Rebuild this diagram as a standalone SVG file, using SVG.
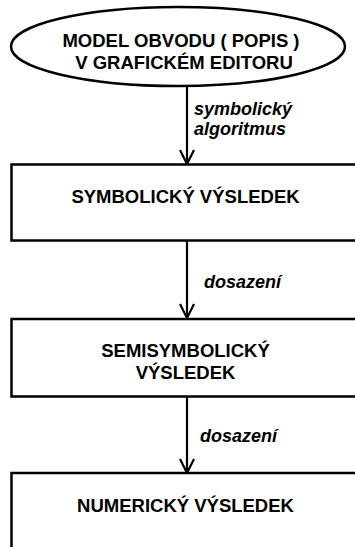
<svg xmlns="http://www.w3.org/2000/svg" width="355" height="547" viewBox="0 0 355 547">
<style>
.shape{fill:#fff;stroke:#000;stroke-width:2.5}
.t{font-family:"Liberation Sans",Arial,sans-serif;font-weight:bold;font-size:18.5px;fill:#000;text-anchor:middle}
.l{font-family:"Liberation Sans",Arial,sans-serif;font-weight:bold;font-style:italic;font-size:18px;fill:#000}
.c{stroke:#000;stroke-width:2.2;fill:none}
</style>
<g id="connectors">
<line class="c" x1="187" y1="86" x2="187" y2="164"/>
<path class="c" d="M180,150 L187,164 L194,150"/>
<line class="c" x1="187" y1="241" x2="187" y2="318"/>
<path class="c" d="M180,304 L187,318 L194,304"/>
<line class="c" x1="187" y1="397" x2="187" y2="473"/>
<path class="c" d="M180,459 L187,473 L194,459"/>
<text class="l" x="194" y="115">symbolický</text>
<text class="l" x="194" y="135">algoritmus</text>
<text class="l" x="204" y="288">dosazení</text>
<text class="l" x="200" y="442">dosazení</text>
</g>
<g id="n1">
<ellipse class="shape" cx="178" cy="46.5" rx="167" ry="39.5"/>
<text class="t" x="181" y="47">MODEL OBVODU ( POPIS )</text>
<text class="t" x="184" y="69">V GRAFICKÉM EDITORU</text>
</g>
<g id="n2">
<rect class="shape" x="11.5" y="164.5" width="360" height="76"/>
<text class="t" x="185.5" y="203">SYMBOLICKÝ VÝSLEDEK</text>
</g>
<g id="n3">
<rect class="shape" x="11.5" y="319" width="360" height="77.5"/>
<text class="t" x="185.5" y="357">SEMISYMBOLICKÝ</text>
<text class="t" x="185.5" y="379">VÝSLEDEK</text>
</g>
<g id="n4">
<rect class="shape" x="11.5" y="473" width="360" height="90"/>
<text class="t" x="185.5" y="512">NUMERICKÝ VÝSLEDEK</text>
</g>
</svg>
